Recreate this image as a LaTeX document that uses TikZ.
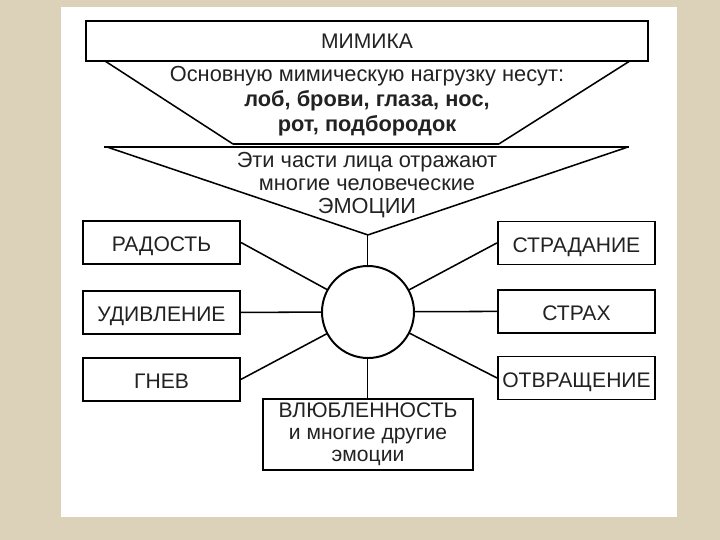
\documentclass[tikz,border=0pt]{standalone}
\usepackage{fontspec}
\setmainfont{Liberation Sans}

\begin{document}
\begin{tikzpicture}[scale=18.0,
  emobox/.style={draw=000000, line width=1.4pt, fill=FFFFFF, inner sep=0pt, text=222222, font=\fontsize{15}{15.8}\selectfont},
  sidebox/.style={emobox, text height=13pt, text depth=0pt, minimum width=3.925cm, minimum height=1.075cm},
  caption/.style={text=222222, align=center, inner sep=0pt},
  link/.style={line width=1.1pt, join=round, cap=round, color=000000}]
\definecolor{FFFFFF}{rgb}{1.00000,1.00000,1.00000}
\definecolor{000000}{rgb}{0.00000,0.00000,0.00000}
\definecolor{222222}{rgb}{0.13333,0.13333,0.13333}
\definecolor{DCD2BA}{rgb}{0.86275,0.82353,0.72941}
\useasboundingbox (0,0) rectangle (1.000000,-0.750000);
\fill[color=DCD2BA] (0.00000, 0.00000) rectangle (1.00000, -0.75000);
\fill[color=FFFFFF] (0.08472,-0.00972) rectangle (0.94028,-0.71806);
\node[emobox, minimum width=14.05cm, minimum height=1.0cm] (mimika) at (0.50972,-0.05694) {МИМИКА};
\coordinate (tl) at (0.14583,-0.08472);
\coordinate (bl) at (0.32361,-0.20000);
\coordinate (br) at (0.69306,-0.20000);
\coordinate (tr) at (0.87500,-0.08472);
\coordinate (apex) at (0.51111,-0.32639);
\draw[link] (tl) -- (bl);
\draw[link] (br) -- (tr);
\draw[line width=1.6pt, color=000000] (bl) -- (br);
\draw[line width=1.6pt, color=000000] (0.14444,-0.20417) -- (0.87361,-0.20417);
\draw[link] (0.14861,-0.20417) -- (apex) -- (0.87222,-0.20417);
\node[caption, font=\fontsize{15.5}{17.6}\selectfont] (load) at (0.50972,-0.14028) {Основную мимическую нагрузку несут:\\ \textbf{лоб, брови, глаза, нос,}\\ \textbf{рот, подбородок}};
\node[caption, font=\fontsize{15.5}{16.2}\selectfont] (parts) at (0.50972,-0.25694) {Эти части лица отражают\\ многие человеческие\\ ЭМОЦИИ};
\node[draw=000000, line width=1.4pt, circle, minimum size=2.3cm, inner sep=0pt] (emo) at (0.51111,-0.43333) {};
\node[sidebox] (radost) at (0.22431,-0.33681) {РАДОСТЬ};
\node[sidebox] (udivl) at (0.22431,-0.43403) {УДИВЛЕНИЕ};
\node[sidebox] (gnev) at (0.22431,-0.52708) {ГНЕВ};
\node[sidebox] (strad) at (0.80069,-0.33750) {СТРАДАНИЕ};
\node[sidebox] (strah) at (0.80069,-0.43264) {СТРАХ};
\node[sidebox] (otvr) at (0.80069,-0.52500) {ОТВРАЩЕНИЕ};
\node[emobox, align=center, minimum width=5.25cm, minimum height=1.775cm] (vlub) at (0.51111,-0.60347) {ВЛЮБЛЕННОСТЬ\\ и многие другие\\ эмоции};
\draw[link, line width=0.8pt] (apex) -- (emo.north);
\draw[link, line width=0.8pt] (emo.south) -- (vlub.north);
\draw[link] (radost.east) -- (emo);
\draw[link] (udivl.east) -- (emo);
\draw[link] (gnev.east) -- (emo);
\draw[link] (strad.west) -- (emo);
\draw[link] (strah.west) -- (emo);
\draw[link] (otvr.west) -- (emo);
\end{tikzpicture}
\end{document}
